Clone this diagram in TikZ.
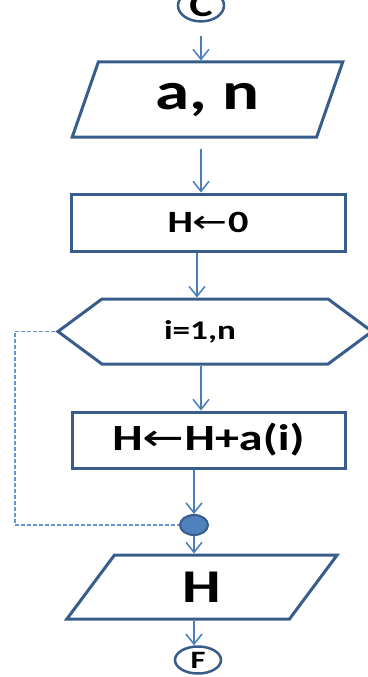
\documentclass[tikz,border=0pt]{standalone}
\usepackage{fontspec}
\setmainfont{Carlito}[FakeStretch=1.3]
\newfontfamily\arrowfont{DejaVu Sans}[FakeStretch=1.35]
\usepackage{tikz}
\usetikzlibrary{shapes.geometric, shapes.symbols, arrows.meta}
\definecolor{boxline}{RGB}{56, 93, 138}
\definecolor{arrowline}{RGB}{74, 126, 187}
\definecolor{backdash}{RGB}{100, 150, 210}
\definecolor{dotfill}{RGB}{79, 129, 189}
\newcommand{\assignarrow}{{\arrowfont\mdseries ←}}

\tikzset{
    procbox/.style={draw=boxline, line width=3pt, rectangle, inner sep=0pt},
    iobox/.style={draw=boxline, line width=3pt, trapezium, trapezium stretches=true, inner sep=0pt},
    loopbox/.style={draw=boxline, line width=3pt, signal, signal to=west and east, signal pointer angle=73, inner sep=0pt},
    termnode/.style={draw=boxline, line width=2.5pt, ellipse, minimum width=46pt, minimum height=27pt, inner sep=0pt, font=\bfseries\fontsize{25}{28}\selectfont},
    joindot/.style={draw=boxline, line width=2pt, fill=dotfill, ellipse, minimum width=28pt, minimum height=20pt, inner sep=0pt},
    flowarrow/.style={draw=arrowline, line width=1.5pt, -{Straight Barb[length=10pt, width=16pt]}},
    backline/.style={draw=backdash, line width=1.3pt, dash pattern=on 4pt off 2pt}
}

\begin{document}
\begin{tikzpicture}[x=1pt, y=-1pt]
    \useasboundingbox (0, 0) rectangle (367, 677);

    % blocks, top to bottom
    \node[termnode, font=\bfseries\fontsize{34}{38}\selectfont] (C) at (201, 5.5) {C};
    \node[iobox, trapezium left angle=69.5, trapezium right angle=110.5, minimum width=271pt, minimum height=75pt,
        font=\bfseries\fontsize{53}{60}\selectfont] (an) at (207.5, 99.5) {a, n};
    \node[procbox, minimum width=274pt, minimum height=57pt, font=\bfseries\fontsize{31}{36}\selectfont]
        (h0) at (208, 222.5) {H\assignarrow0};
    \node[loopbox, minimum width=314pt, minimum height=65pt,
        label={[xshift=-15pt, font=\bfseries\fontsize{27}{32}\selectfont]center:i=1,n}] (loop) at (215, 331.5) {};
    \node[procbox, minimum width=273pt, minimum height=56pt, font=\bfseries\fontsize{37}{42}\selectfont]
        (hplus) at (208.5, 440) {H\assignarrow H+a(i)};
    \node[joindot] (dot) at (194, 525) {};
    \node[iobox, trapezium left angle=71, trapezium right angle=109, minimum width=272pt, minimum height=64pt,
        font=\bfseries\fontsize{47}{52}\selectfont] (hout) at (202, 587) {H};
    \node[termnode] (F) at (198, 660) {F};

    % connectors
    \draw[flowarrow, shorten <=13pt] (C.south) -- (C.south |- an.north);
    \draw[flowarrow, shorten <=10pt] ([xshift=-7pt]h0.north |- an.south) -- ([xshift=-7pt]h0.north);
    \draw[flowarrow] ([xshift=-11pt]h0.south) -- ([xshift=-11pt]h0.south |- loop.north);
    \draw[flowarrow] ([xshift=-7.5pt]hplus.north |- loop.south) -- ([xshift=-7.5pt]hplus.north);
    \draw[flowarrow] (hplus.south -| dot.north) -- (dot.north);
    \draw[flowarrow] (dot.south) -- (dot.south |- hout.north);
    \draw[flowarrow] ([xshift=-8pt]hout.south) -- ([xshift=-8pt]hout.south |- F.north);

    % loop exit
    \coordinate (back) at (15, 525);
    \draw[backline] (loop.west) -| (back) -- (dot.west);
\end{tikzpicture}
\end{document}
